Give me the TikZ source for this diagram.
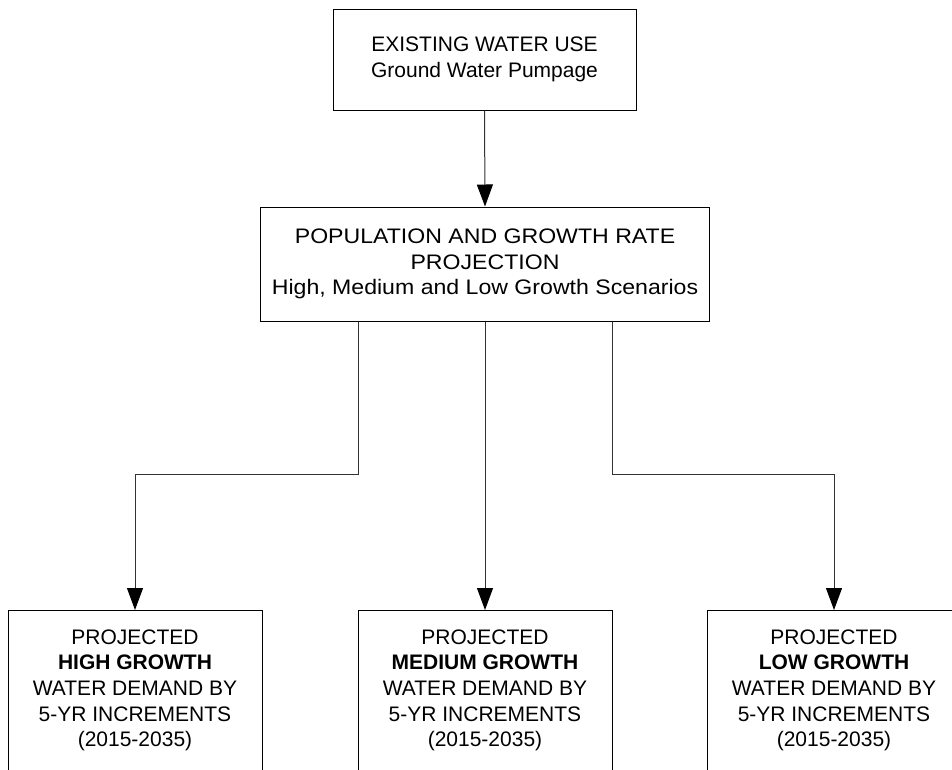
\documentclass[tikz,border=0pt]{standalone}
\usepackage{fontspec}
\setmainfont{Liberation Sans}
\newfontfamily\widesans[FakeStretch=1.1]{Liberation Sans}
\usetikzlibrary{arrows.meta}
\begin{document}
\begin{tikzpicture}[x=1pt,y=-1pt,
  box/.style={draw=black, line width=1pt, align=center, inner xsep=0pt,
    font=\fontsize{21}{25.7}\selectfont},
  conn/.style={draw=black!80, line width=1pt},
  arr/.style={conn, -{Triangle[width=16pt,length=22pt,color=black]}}]
\useasboundingbox (0,0) rectangle (952,769);
\clip (0,0) rectangle (952,769);
\node[box, minimum width=303pt, minimum height=101pt] (top) at (484.5,59.5)
  {EXISTING WATER USE\\Ground Water Pumpage};
\node[box, minimum width=449pt, minimum height=114pt,
  font=\widesans\fontsize{21}{25.6}\selectfont] (mid) at (485,264)
  {POPULATION AND GROWTH RATE\\PROJECTION\\High, Medium and Low Growth Scenarios};
\node[box, minimum width=254pt, anchor=north, inner ysep=19pt] (high) at (135,610)
  {PROJECTED\\\textbf{HIGH GROWTH}\\WATER DEMAND BY\\5-YR INCREMENTS\\(2015-2035)};
\node[box, minimum width=254pt, anchor=north, inner ysep=19pt] (med) at (485,610)
  {PROJECTED\\\textbf{MEDIUM GROWTH}\\WATER DEMAND BY\\5-YR INCREMENTS\\(2015-2035)};
\node[box, minimum width=254pt, anchor=north, inner ysep=19pt] (low) at (834,610)
  {PROJECTED\\\textbf{LOW GROWTH}\\WATER DEMAND BY\\5-YR INCREMENTS\\(2015-2035)};
\coordinate (lb) at (358,474);
\coordinate (rb) at (612,474);
\draw[arr] (top.south) -- (mid.north);
\draw[arr] (lb |- mid.south) -- (lb) -| (high.north);
\draw[arr] (mid.south) -- (med.north);
\draw[arr] (rb |- mid.south) -- (rb) -| (low.north);
\end{tikzpicture}
\end{document}
